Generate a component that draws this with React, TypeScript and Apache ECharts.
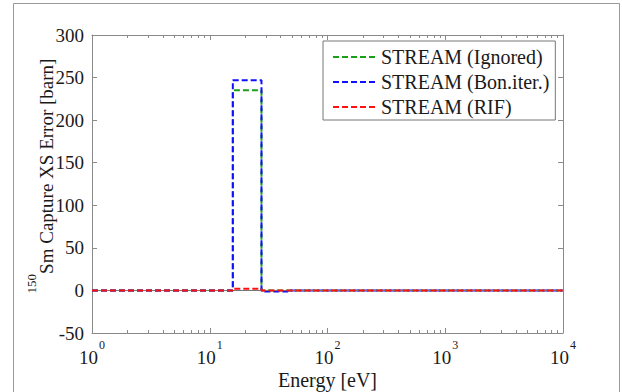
import React, { useEffect, useRef } from "react";
import * as echarts from "echarts";

// ---- data ----
const seriesNames = ["STREAM (Ignored)", "STREAM (Bon.iter.)", "STREAM (RIF)"];
const seriesColors = ["#18a018", "#1010ff", "#ff1010"];
const greenEnergy = [1, 15.7, 27.5, 10000];
const greenValue = [0, 235, 0, 0];
const blueEnergy = [1, 15.7, 27.5, 46, 10000];
const blueValue = [0, 247, -1.2, 0, 0];
const redEnergy = [1, 15.7, 27.5, 10000];
const redValue = [0, 2, 0, 0];
const xMin = 1;
const xMax = 10000;
const yMin = -50;
const yMax = 300;
const yStep = 50;
const xTitle = "Energy [eV]";
const yTitleIsotope = "150";
const yTitle = "Sm Capture XS Error [barn]";

const FONT = "'Liberation Serif', 'Times New Roman', serif";
const AXIS = "#8a8a8a";
const TEXT = "#1a1a1a";

const zip = (xs: number[], ys: number[]) => xs.map((x, i) => [x, ys[i]]);

export default function App() {
  const ref = useRef<HTMLDivElement>(null);
  useEffect(() => {
    if (!ref.current) return;
    const chart = echarts.init(ref.current, undefined, { renderer: "svg" });
    const tickStyle = { lineStyle: { color: AXIS, width: 1 } };
    const baseX = {
      type: "log",
      logBase: 10,
      min: xMin,
      max: xMax,
      axisLine: { show: true, onZero: false, lineStyle: { color: AXIS, width: 1 } },
      axisTick: { show: true, inside: true, length: 5, ...tickStyle },
      minorTick: { show: true, splitNumber: 9, length: 3, ...tickStyle },
      splitLine: { show: false },
      minorSplitLine: { show: false },
    };
    const baseY = {
      type: "value",
      min: yMin,
      max: yMax,
      interval: yStep,
      axisLine: { show: true, onZero: false, lineStyle: { color: AXIS, width: 1 } },
      axisTick: { show: true, inside: true, length: 5, ...tickStyle },
      splitLine: { show: false },
    };
    const lineSeries = (i: number, xs: number[], ys: number[], extra: any = {}) => ({
      name: seriesNames[i],
      type: "line",
      step: "end",
      data: zip(xs, ys),
      symbol: "none",
      showSymbol: false,
      xAxisIndex: 0,
      yAxisIndex: 0,
      itemStyle: { color: seriesColors[i] },
      lineStyle: { color: seriesColors[i], width: 2, type: [6, 3] },
      z: 3 + i,
      ...extra,
    });
    chart.setOption({
      animation: false,
      backgroundColor: "#ffffff",
      textStyle: { fontFamily: FONT },
      grid: { left: 92, right: 59, top: 35, bottom: 59, containLabel: false, outerBoundsMode: "none" },
      graphic: [
        {
          type: "rect",
          silent: true,
          z: -10,
          shape: { x: 13.5, y: 3.5, width: 606, height: 400 },
          style: { fill: "none", stroke: "#999999", lineWidth: 1 },
        },
      ],
      legend: {
        orient: "vertical",
        left: 323,
        top: 41,
        padding: [6, 6, 3, 9],
        itemGap: 5,
        itemWidth: 42,
        itemHeight: 16,
        itemStyle: { opacity: 0 },
        borderColor: "#777777",
        borderWidth: 1,
        borderRadius: 0,
        backgroundColor: "#ffffff",
        textStyle: { fontFamily: FONT, fontSize: 20, color: TEXT, padding: [0, 0, 0, 1] },
        data: seriesNames,
      },
      xAxis: [
        {
          ...baseX,
          position: "bottom",
          axisLabel: {
            margin: 6,
            formatter: (v: number) => `{b|10}{s|${Math.round(Math.log10(v))}}`,
            rich: {
              b: { fontFamily: FONT, fontSize: 19, color: TEXT, padding: [9, 0, 0, 0] },
              s: { fontFamily: FONT, fontSize: 12, color: TEXT, verticalAlign: "top", padding: [0, 0, 0, 1] },
            },
          },
          name: xTitle,
          nameLocation: "middle",
          nameGap: 37,
          nameMoveOverlap: false,
          nameTextStyle: { fontFamily: FONT, fontSize: 20, color: TEXT },
        },
        {
          ...baseX,
          position: "top",
          axisLabel: { show: false },
        },
      ],
      yAxis: [
        {
          ...baseY,
          position: "left",
          axisLabel: { margin: 8, fontFamily: FONT, fontSize: 19, color: TEXT },
          name: `{sup|${yTitleIsotope}}{m|${yTitle}}`,
          nameLocation: "middle",
          nameRotate: 90,
          nameGap: 36,
          nameMoveOverlap: false,
          nameTextStyle: {
            padding: [0, 0, 0, 16],
            rich: {
              sup: { fontFamily: FONT, fontSize: 13, color: TEXT, verticalAlign: "top" },
              m: { fontFamily: FONT, fontSize: 19, color: TEXT, padding: [12, 0, 0, 0] },
            },
          },
        },
        {
          ...baseY,
          position: "right",
          axisLabel: { show: false },
        },
      ],
      series: [
        lineSeries(0, greenEnergy, greenValue, {
          markLine: {
            silent: true,
            symbol: "none",
            label: { show: false },
            lineStyle: { color: "#777777", type: "solid", width: 1 },
            data: [{ yAxis: 0 }],
          },
        }),
        lineSeries(1, blueEnergy, blueValue),
        lineSeries(2, redEnergy, redValue),
      ],
    });
    return () => chart.dispose();
  }, []);
  return (
    <div
      ref={ref}
      style={{ position: "fixed", left: 0, top: 0, width: 622, height: 392, background: "#fff" }}
    />
  );
}
